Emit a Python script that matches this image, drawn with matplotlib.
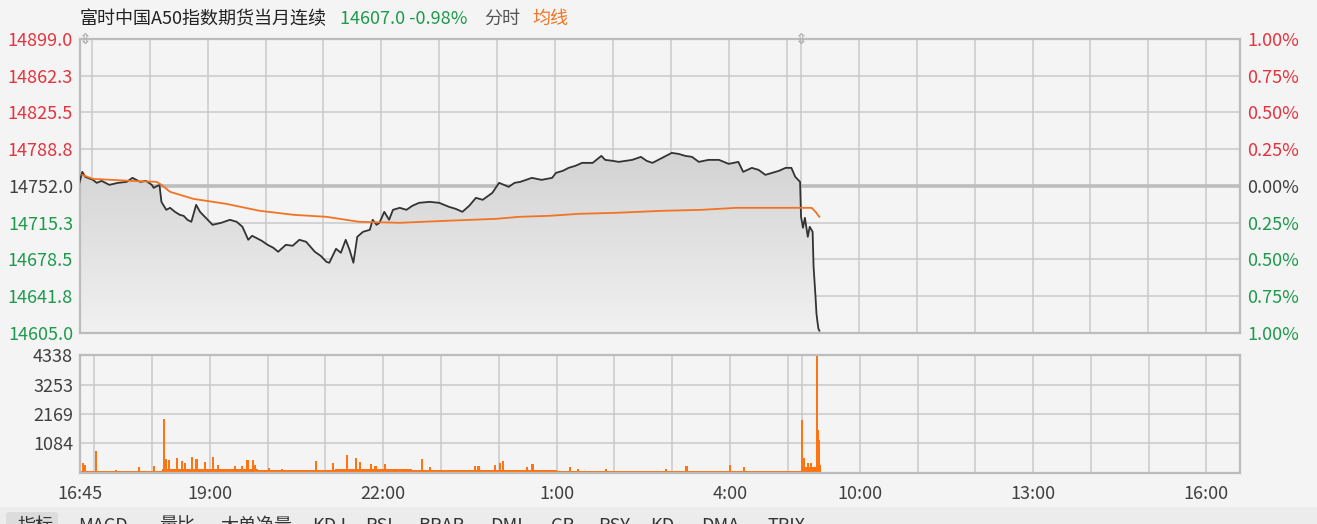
import matplotlib
matplotlib.use("Agg")
import matplotlib.pyplot as plt
import numpy as np
from matplotlib.colors import LinearSegmentedColormap
from matplotlib.patches import FancyBboxPatch, Rectangle

plt.rcParams["font.family"] = ["Noto Sans CJK SC", "DejaVu Sans"]

# ---- data ----
title = "富时中国A50指数期货当月连续"
last_quote = "14607.0 -0.98%"
prev_settle = 14752.0

price_times = [
    "16:47", "16:50", "16:53", "17:01", "17:05", "17:10", "17:18", "17:27",
    "17:36", "17:42", "17:50", "17:56", "18:02", "18:04", "18:10", "18:12",
    "18:17", "18:21", "18:26", "18:31", "18:35", "18:39", "18:43", "18:48",
    "18:52", "18:55", "19:05", "19:14", "19:23", "19:30", "19:36", "19:42",
    "19:46", "19:50", "19:56", "20:02", "20:08", "20:13", "20:21", "20:28",
    "20:35", "20:42", "20:51", "20:57", "21:03", "21:06", "21:13", "21:18",
    "21:23", "21:27", "21:31", "21:35", "21:41", "21:48", "21:51", "21:55",
    "21:58", "22:03", "22:08", "22:12", "22:19", "22:26", "22:32", "22:39",
    "22:50", "23:00", "23:10", "23:17", "23:24", "23:31", "23:38", "23:45",
    "23:55", "0:02", "0:07", "0:12", "0:18", "0:24", "0:30", "0:36",
    "0:46", "0:57", "1:01", "1:08", "1:14", "1:21", "1:28", "1:39",
    "1:48", "1:52", "2:00", "2:06", "2:13", "2:20", "2:29", "2:35",
    "2:41", "2:51", "3:01", "3:08", "3:15", "3:22", "3:29", "3:39",
    "3:50", "4:00", "4:10", "4:15", "4:24", "4:31", "4:38", "4:45",
    "4:52", "4:59", "5:05", "5:09", "5:14",
    "9:00", "9:02", "9:04", "9:07", "9:09", "9:12", "9:13", "9:15",
    "9:16", "9:17", "9:18", "9:19",
]
price_values = [
    14755, 14766, 14761, 14758, 14755, 14757, 14753, 14755,
    14756, 14760, 14756, 14757, 14753, 14750, 14753, 14736,
    14728, 14730, 14726, 14723, 14722, 14718, 14716, 14733,
    14726, 14723, 14713, 14715, 14718, 14716, 14711, 14698,
    14702, 14700, 14697, 14693, 14690, 14686, 14693, 14692,
    14698, 14696, 14686, 14682, 14676, 14675, 14689, 14685,
    14698, 14688, 14675, 14701, 14706, 14708, 14718, 14713,
    14715, 14726, 14718, 14728, 14730, 14728, 14732, 14735,
    14736, 14735, 14731, 14729, 14726, 14732, 14740, 14738,
    14745, 14755, 14753, 14751, 14755, 14756, 14758, 14760,
    14758, 14760, 14765, 14767, 14770, 14772, 14775, 14775,
    14782, 14778, 14777, 14776, 14777, 14778, 14781, 14777,
    14775, 14780, 14785, 14784, 14782, 14781, 14776, 14778,
    14778, 14774, 14776, 14766, 14770, 14768, 14763, 14765,
    14767, 14770, 14770, 14761, 14756,
    14721, 14710, 14720, 14701, 14711, 14706, 14671, 14641,
    14624, 14616, 14609, 14607,
]

avg_times = [
    "16:50", "17:01", "17:20", "17:40", "18:07", "18:12", "18:21", "18:45",
    "19:19", "19:54", "20:29", "21:03", "21:37", "22:19", "23:07", "23:59",
    "0:23", "0:54", "1:25", "2:03", "2:51", "3:32", "4:08", "5:14",
    "9:00", "9:11", "9:15", "9:19",
]
avg_values = [
    14763, 14759, 14758, 14757, 14756, 14753, 14746, 14739,
    14734, 14727, 14723, 14721, 14716, 14715, 14717, 14719,
    14721, 14722, 14724, 14725, 14727, 14728, 14730, 14730,
    14730, 14730, 14726, 14721,
]

vol_times = [
    "16:48", "16:50", "17:02", "17:22", "17:46", "18:02", "18:12", "18:14",
    "18:17", "18:26", "18:31", "18:34", "18:41", "18:46", "18:55", "19:03",
    "19:08", "19:26", "19:33", "19:39", "19:45", "19:47", "20:01", "20:15",
    "20:50", "21:08", "21:22", "21:32", "21:36", "21:47", "21:52", "22:02",
    "22:40", "22:49", "23:35", "23:39", "23:56", "0:01", "0:04", "0:29",
    "0:35", "1:14", "1:22", "1:51", "2:54", "3:15", "3:41", "4:00", "4:15",
    "9:00", "9:02", "9:06", "9:09", "9:13", "9:16", "9:17", "9:18", "9:19",
]
vol_values = [
    370, 300, 814, 100, 200, 248, 1987, 496,
    470, 533, 444, 370, 592, 496, 407, 570,
    285, 248, 248, 470, 470, 285, 163, 126,
    433, 370, 655, 533, 407, 322, 248, 311,
    496, 222, 248, 248, 285, 348, 444, 200,
    322, 200, 137, 126, 137, 259, 74, 285, 200,
    1950, 533, 348, 370, 163, 4338, 1580, 1210, 285,
]

vol_base_times = ["16:45", "18:10", "19:50", "21:10", "22:30", "0:00",
                  "1:00", "4:00", "5:15", "9:00", "9:20"]
vol_base_values = [80, 150, 100, 130, 90, 100, 80, 80, 0, 200, 0]

price_ticks = [14899.0, 14862.3, 14825.5, 14788.8, 14752.0,
               14715.3, 14678.5, 14641.8, 14605.0]
pct_labels = ["1.00%", "0.75%", "0.50%", "0.25%", "0.00%",
              "0.25%", "0.50%", "0.75%", "1.00%"]
vol_ticks = [1084, 2169, 3253, 4338]

x_labels = ["16:45", "19:00", "22:00", "1:00", "4:00", "10:00", "13:00", "16:00"]
grid_times = ["17:00", "18:00", "19:00", "20:00", "21:00", "22:00", "23:00",
              "0:00", "1:00", "2:00", "3:00", "4:00", "5:00", "9:00",
              "10:00", "11:00", "12:00", "13:00", "14:00", "15:00", "16:00"]

tab_labels = ["MACD", "量比", "大单净量", "KDJ", "RSI", "BRAR", "DMI",
              "CR", "PSY", "KD", "DMA", "TRIX"]
tab_left_px = [78, 159, 220, 312, 365, 418, 490, 551, 598, 650, 701, 768]

RED = "#e3343f"
GREEN = "#1e9a4c"
DARK = "#404040"
LINE_ORANGE = "#f27323"
BAR_ORANGE = "#ff7412"
GRID = "#c9c9c9"
BORDER = "#bcbcbc"
BG = "#f4f4f4"
FONT_SIZE = 13

NIGHT_START = 16 * 60 + 45
NIGHT_END = 5 * 60 + 15
DAY_START = 9 * 60
NIGHT_LEN = 750


def to_pos(label):
    hour, minute = map(int, label.split(":"))
    minutes = hour * 60 + minute
    if minutes >= NIGHT_START or minutes <= NIGHT_END:
        return (minutes - NIGHT_START) % 1440
    return NIGHT_LEN + minutes - DAY_START


def label_color(value):
    if value > prev_settle:
        return RED
    if value < prev_settle:
        return GREEN
    return DARK


W, H = 1317, 524
fig = plt.figure(figsize=(W / 100, H / 100), dpi=100, facecolor=BG)

left, right = 80, 1240
ax = fig.add_axes([left / W, 1 - 332.7 / H, (right - left) / W, 293.7 / H])
axv = fig.add_axes([left / W, 1 - 472.7 / H, (right - left) / W, 117.4 / H])

x_min, x_max = 2.6, 1205
price_x = np.array([to_pos(t) for t in price_times], dtype=float)
avg_x = np.array([to_pos(t) for t in avg_times], dtype=float)

for axis in (ax, axv):
    axis.set_facecolor(BG)
    for spine in axis.spines.values():
        spine.set_color(BORDER)
        spine.set_linewidth(1.6)
    for t in grid_times:
        axis.axvline(to_pos(t), color=GRID, linewidth=1.1, zorder=0.5)
    axis.set_xlim(x_min, x_max)

# price panel
for value in price_ticks[1:-1]:
    ax.axhline(value, color=GRID, linewidth=1.1, zorder=0.5)
ax.axhline(prev_settle, color="#bdbdbd", linewidth=2.6, zorder=0.6)

poly = ax.fill_between(price_x, price_values, price_ticks[-1],
                       color="none", linewidth=0)
gradient = np.linspace(0, 1, 256).reshape(-1, 1)
cmap = LinearSegmentedColormap.from_list("fade", ["#f1f1f1", "#d2d2d2"])
img = ax.imshow(gradient, extent=[x_min, x_max, price_ticks[-1], 14790],
                origin="lower", aspect="auto", cmap=cmap, zorder=1)
img.set_clip_path(poly.get_paths()[0], transform=ax.transData)

ax.plot(price_x, price_values, color="#333333", linewidth=1.3, zorder=3)
ax.plot(avg_x, avg_values, color=LINE_ORANGE, linewidth=1.3, zorder=3)

ax.set_xlim(x_min, x_max)
ax.set_ylim(price_ticks[-1], price_ticks[0])
ax.set_xticks([])
ax.set_yticks(price_ticks)
ax.set_yticklabels([f"{v:.1f}" for v in price_ticks])
ax.tick_params(axis="y", length=0, pad=5, labelsize=FONT_SIZE)
for tick_label, value in zip(ax.get_yticklabels(), price_ticks):
    tick_label.set_color(label_color(value))

ax_r = ax.twinx()
ax_r.set_ylim(ax.get_ylim())
ax_r.set_yticks(price_ticks)
ax_r.set_yticklabels(pct_labels)
ax_r.tick_params(axis="y", length=0, pad=5, labelsize=FONT_SIZE)
for tick_label, value in zip(ax_r.get_yticklabels(), price_ticks):
    tick_label.set_color(label_color(value))
for spine in ax_r.spines.values():
    spine.set_visible(False)

for t in ["16:53", "9:00"]:
    ax.text(to_pos(t), 1.0, "⇕", transform=ax.get_xaxis_transform(),
            ha="center", va="center", fontsize=11, color="#b0b0b0",
            family="DejaVu Sans", zorder=5)

# volume panel
for value in vol_ticks[:-1]:
    axv.axhline(value, color=GRID, linewidth=1.1, zorder=0.5)
base_x = [to_pos(t) for t in vol_base_times]
axv.fill_between(base_x, vol_base_values, step="post", color=BAR_ORANGE,
                 linewidth=0, zorder=2)
axv.bar([to_pos(t) for t in vol_times], vol_values, width=2.2,
        color=BAR_ORANGE, linewidth=0, zorder=2)
axv.set_ylim(0, vol_ticks[-1])
axv.set_yticks(vol_ticks)
axv.tick_params(axis="y", length=0, pad=5, labelsize=FONT_SIZE,
                labelcolor=DARK)
axv.set_xticks([to_pos(t) for t in x_labels])
axv.set_xticklabels(x_labels)
axv.tick_params(axis="x", length=0, pad=9, labelsize=FONT_SIZE,
                labelcolor=DARK)

# header
header_y = 1 - 19 / H
fig.text(left / W, header_y, title, ha="left", va="center",
         fontsize=FONT_SIZE, color="#222222")
fig.text(340 / W, header_y, last_quote, ha="left", va="center",
         fontsize=FONT_SIZE, color=GREEN)
fig.text(484 / W, header_y, "分时", ha="left", va="center",
         fontsize=FONT_SIZE, color="#555555")
fig.text(532 / W, header_y, "均线", ha="left", va="center",
         fontsize=FONT_SIZE, color=LINE_ORANGE)

# indicator tabs strip (cut off at the bottom, as in the source screenshot)
fig.patches.append(Rectangle((0, 0), 1, 17 / H, transform=fig.transFigure,
                             facecolor="#ececec", edgecolor="none"))
fig.patches.append(FancyBboxPatch((6 / W, -10 / H), 52 / W, 22 / H,
                                  boxstyle="round,pad=0,rounding_size=0.004",
                                  transform=fig.transFigure,
                                  facecolor="#dcdcdc", edgecolor="none"))
fig.text(17 / W, 1 - 517 / H, "指标", ha="left", va="top",
         fontsize=FONT_SIZE, color="#333333")
for name, x_px in zip(tab_labels, tab_left_px):
    fig.text(x_px / W, 1 - 517 / H, name, ha="left", va="top",
             fontsize=FONT_SIZE, color="#333333")

fig.savefig("out.png", dpi=100, facecolor=BG)
